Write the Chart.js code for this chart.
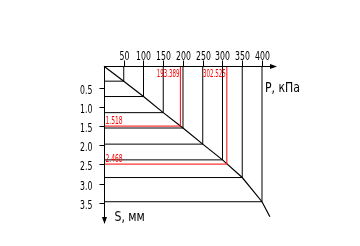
<!DOCTYPE html>
<html>
<head>
<meta charset="utf-8">
<script src="https://cdn.jsdelivr.net/npm/chart.js@4"></script>
<style>
    html, body { margin: 0; padding: 0; background: #fff; }
    #wrap { width: 360px; height: 246px; position: relative; }
</style>
</head>
<body>
<div id="wrap"><canvas id="chart"></canvas></div>
<script>
// Valeurs
const pressureTicks = [50, 100, 150, 200, 250, 300, 350, 400];
const settlementTicks = [0.5, 1.0, 1.5, 2.0, 2.5, 3.0, 3.5];
const curvePressure = [0, 50, 100, 150, 200, 250, 300, 350, 400, 420];
const curveSettlement = [-0.06, 0.33, 0.73, 1.15, 1.55, 1.97, 2.38, 2.84, 3.47, 3.86];
const resultPressure = [193.389, 311];
const resultSettlement = [1.5, 2.49];
const resultPressureLabels = ["193.389", "302.525"];
const resultSettlementLabels = ["1.518", "2.468"];
const xTitle = "P, кПа";
const yTitle = "S, мм";

const xMax = 438;
const yMin = -0.065;
const yMax = 4.05;
const font = "'DejaVu Sans', sans-serif";

const datasets = [];

// Lignes de lecture (horizontale puis verticale jusqu'a l'axe)
curvePressure.forEach((p, i) => {
    if (!pressureTicks.includes(p)) return;
    const s = curveSettlement[i];
    datasets.push({
        data: [{ x: 0, y: s }, { x: p, y: s }, { x: p, y: yMin }],
        borderColor: "#000",
        borderWidth: 1,
        pointRadius: 0,
        tension: 0,
        clip: false,
    });
});

// Resultats en rouge
resultPressure.forEach((p, i) => {
    const s = resultSettlement[i];
    datasets.push({
        data: [{ x: 0, y: s }, { x: p, y: s }, { x: p, y: yMin }],
        borderColor: "#ff0000",
        borderWidth: 1,
        pointRadius: 0,
        tension: 0,
        clip: false,
    });
});

// Courbe de tassement
datasets.push({
    data: curvePressure.map((p, i) => ({ x: p, y: curveSettlement[i] })),
    borderColor: "#000",
    borderWidth: 1.2,
    pointRadius: 0,
    tension: 0,
    clip: false,
});

// Texte etroit facon police de dessin
function narrowText(c, text, x, y, align, sx) {
    c.save();
    c.translate(x, y);
    c.scale(sx, 1);
    c.textAlign = align;
    c.fillText(text, 0, 0);
    c.restore();
}

// Axes dessines a la main (style dessin technique)
const axesPlugin = {
    id: "axes",
    afterDatasetsDraw(chart) {
        const c = chart.ctx;
        const xs = chart.scales.x;
        const ys = chart.scales.y;
        const x0 = Math.round(xs.getPixelForValue(0)) + 0.5;
        const y0 = Math.round(ys.getPixelForValue(yMin)) + 0.5;
        const xEnd = xs.getPixelForValue(xMax);
        const yEnd = ys.getPixelForValue(yMax);

        c.save();
        c.strokeStyle = "#000";
        c.fillStyle = "#000";
        c.lineWidth = 1;

        // axe P
        c.beginPath();
        c.moveTo(x0, y0);
        c.lineTo(xEnd - 5, y0);
        c.stroke();
        c.beginPath();
        c.moveTo(xEnd, y0);
        c.lineTo(xEnd - 7, y0 - 2.5);
        c.lineTo(xEnd - 7, y0 + 2.5);
        c.closePath();
        c.fill();

        // axe S
        c.beginPath();
        c.moveTo(x0, y0);
        c.lineTo(x0, yEnd - 5);
        c.stroke();
        c.beginPath();
        c.moveTo(x0, yEnd);
        c.lineTo(x0 - 2.5, yEnd - 7);
        c.lineTo(x0 + 2.5, yEnd - 7);
        c.closePath();
        c.fill();

        c.font = "13px " + font;
        c.textBaseline = "alphabetic";

        // graduations P
        pressureTicks.forEach((p) => {
            const x = Math.round(xs.getPixelForValue(p)) + 0.5;
            c.beginPath();
            c.moveTo(x, y0 - 6);
            c.lineTo(x, y0);
            c.stroke();
            narrowText(c, String(p), x, y0 - 7, "center", 0.6);
        });

        // graduations S
        settlementTicks.forEach((s) => {
            const y = Math.round(ys.getPixelForValue(s)) + 0.5;
            c.beginPath();
            c.moveTo(x0 - 5, y);
            c.lineTo(x0, y);
            c.stroke();
            narrowText(c, s.toFixed(1), x0 - 12, y + 5, "right", 0.6);
        });

        // titres
        c.font = "14px " + font;
        narrowText(c, xTitle, xEnd - 12, y0 + 25, "left", 0.78);
        narrowText(c, yTitle, x0 + 10, yEnd - 3, "left", 0.78);

        // valeurs rouges
        c.fillStyle = "#ff0000";
        c.font = "10px " + font;
        resultPressure.forEach((p, i) => {
            const x = xs.getPixelForValue(p);
            narrowText(c, resultPressureLabels[i], x - 1, y0 + 10, "right", 0.55);
        });
        resultSettlement.forEach((s, i) => {
            const y = ys.getPixelForValue(s);
            narrowText(c, resultSettlementLabels[i], x0 + 1, y - 2, "left", 0.6);
        });
        c.restore();
    },
};

new Chart(document.getElementById("chart").getContext("2d"), {
    type: "line",
    data: { datasets: datasets },
    options: {
        responsive: true,
        maintainAspectRatio: false,
        animation: false,
        layout: { padding: { left: 104, right: 83, top: 66, bottom: 22 } },
        plugins: {
            legend: { display: false },
            tooltip: { enabled: false },
        },
        scales: {
            x: { type: "linear", min: 0, max: xMax, display: false },
            y: { type: "linear", min: yMin, max: yMax, reverse: true, display: false },
        },
    },
    plugins: [axesPlugin],
});
</script>
</body>
</html>
